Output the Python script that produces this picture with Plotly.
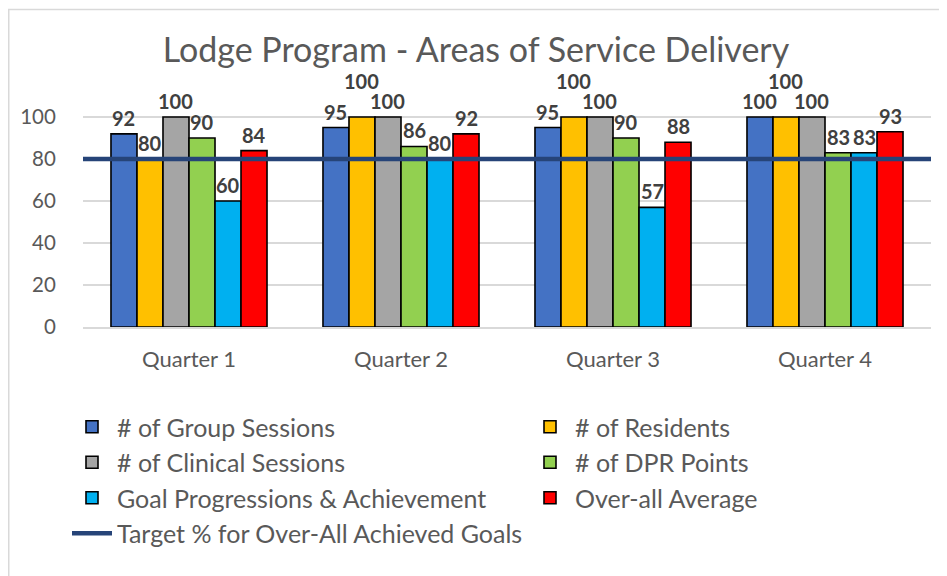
import plotly.graph_objects as go

quarters = ["Quarter 1", "Quarter 2", "Quarter 3", "Quarter 4"]
group_sessions = [92, 95, 95, 100]
residents = [80, 100, 100, 100]
clinical_sessions = [100, 100, 100, 100]
dpr_points = [90, 86, 90, 83]
goal_progressions = [60, 80, 57, 83]
overall_average = [84, 92, 88, 93]
target_value = 80

series_names = ["# of Group Sessions", "# of Residents", "# of Clinical Sessions",
                "# of DPR Points", "Goal Progressions & Achievement", "Over-all Average"]
series_values = [group_sessions, residents, clinical_sessions, dpr_points,
                 goal_progressions, overall_average]
series_colors = ["#4472C4", "#FFC000", "#A5A5A5", "#92D050", "#00B0F0", "#FF0000"]
# which legend column each series is shown in (Excel lays the legend out in two columns)
series_legend = ["legend", "legend2", "legend", "legend2", "legend", "legend2"]

FONT = "Lato"
# the page body has an 8px margin, so the figure is drawn 8px smaller and offset
OFF = 8
W, H = 947 - OFF, 576 - OFF
L, R, T, B = 83 - OFF, 16, 116 - OFF, H - (327 - OFF)
plot_w = W - L - R
plot_h = H - T - B
BARGAP = 0.264
n_series = len(series_names)
bar_px = plot_w / len(quarters) * (1 - BARGAP) / n_series

fig = go.Figure()
for name, vals, col, leg in zip(series_names, series_values, series_colors, series_legend):
    fig.add_trace(go.Bar(
        x=quarters, y=vals, name=name, legend=leg,
        marker=dict(color=col, line=dict(color="#000000", width=1.6)),
        cliponaxis=False,
    ))

fig.add_trace(go.Scatter(
    x=[0, 1], y=[target_value, target_value], xaxis="x2",
    mode="lines", name="Target % for Over-All Achieved Goals", legend="legend",
    line=dict(color="#264478", width=4.5),
))

# data labels: placed above each bar, staggered upward when a neighbour label would collide
annotations = []
for j, q in enumerate(quarters):
    prev_val, prev_staggered, prev_len = None, False, 0
    for i, vals in enumerate(series_values):
        v = vals[j]
        lab = str(v)
        stagger = 0
        if prev_val is not None and not prev_staggered and abs(v - prev_val) < 10 \
                and max(len(lab), prev_len) > 2:
            stagger = 20
        annotations.append(dict(
            x=q, y=v, xref="x", yref="y", text=lab, showarrow=False,
            xshift=(i - (n_series - 1) / 2) * bar_px, yshift=2 + stagger,
            yanchor="bottom", xanchor="center",
            font=dict(family=FONT, size=20, color="#404040", weight="bold"),
        ))
        prev_val, prev_staggered, prev_len = v, stagger > 0, len(lab)

def px(p):
    return (p - L) / plot_w

def py(p):
    return (H - B - p) / plot_h

# light chart-area border (left and top edges visible)
fig.add_shape(type="rect", xref="paper", yref="paper",
              x0=px(0.75), x1=px(W + 5), y0=py(H + 5), y1=py(1.5),
              line=dict(color="#D9D9D9", width=1.5), fillcolor="rgba(0,0,0,0)", layer="below")

legend_common = dict(orientation="v", xanchor="left", yanchor="top",
                     font=dict(family=FONT, size=25, color="#595959"),
                     traceorder="normal", itemwidth=40, bgcolor="rgba(0,0,0,0)")

fig.update_layout(
    width=W, height=H,
    margin=dict(l=L, r=R, t=T, b=B, autoexpand=False),
    paper_bgcolor="white", plot_bgcolor="white",
    barmode="group", bargap=BARGAP, bargroupgap=0,
    title=dict(text="Lodge Program - Areas of Service Delivery",
               font=dict(family=FONT, size=34, color="#595959"),
               x=468 / W, xanchor="center", y=1 - 42 / H, yanchor="middle"),
    font=dict(family=FONT, color="#595959"),
    annotations=annotations,
    xaxis=dict(showgrid=False, showline=True, linecolor="#D9D9D9", linewidth=1.5,
               ticks="outside", ticklen=12, tickcolor="rgba(0,0,0,0)",
               tickfont=dict(family=FONT, size=22, color="#595959")),
    xaxis2=dict(overlaying="x", range=[0, 1], visible=False),
    yaxis=dict(range=[0, 100.5], tickvals=[0, 20, 40, 60, 80, 100],
               showgrid=True, gridcolor="#D9D9D9", gridwidth=1.5, zeroline=False,
               tickfont=dict(family=FONT, size=20.5, color="#595959"),
               ticklen=22, ticks="outside", tickcolor="rgba(0,0,0,0)"),
    legend=dict(xref="container", yref="container", x=59 / W, y=1 - 396 / H, **legend_common),
    legend2=dict(xref="container", yref="container", x=517 / W, y=1 - 396 / H, **legend_common),
    showlegend=True,
)

fig.write_html("out.html")
